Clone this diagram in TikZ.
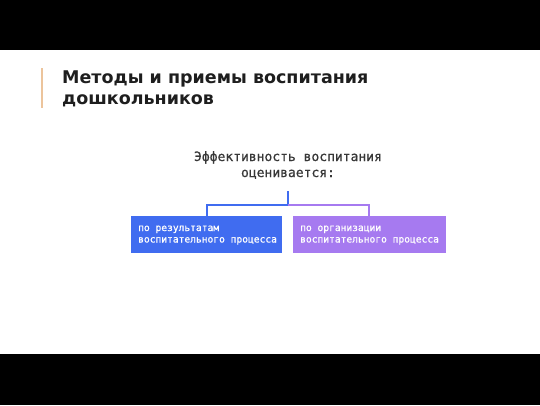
\documentclass[tikz,border=0pt]{standalone}
\usepackage{fontspec}
\setmainfont{DejaVu Sans}
\newfontfamily\monofont{DejaVu Sans Mono}[FakeBold=0.7]
\definecolor{barblack}{RGB}{0,0,0}
\definecolor{accent}{RGB}{236,196,156}
\definecolor{titlegray}{RGB}{30,30,30}
\definecolor{headgray}{RGB}{55,55,55}
\definecolor{boxblue}{RGB}{64,108,240}
\definecolor{boxpurple}{RGB}{166,122,240}
\tikzset{
  titletext/.style={anchor=base west, inner sep=0pt, align=left, text=titlegray,
    font=\bfseries\fontsize{17.5}{21}\selectfont},
  headtext/.style={anchor=base, inner sep=0pt, align=center, text=headgray,
    font=\monofont\fontsize{13}{16}\selectfont},
  boxlabel/.style={anchor=base west, inner sep=0pt, align=left, text=white,
    font=\monofont\fontsize{9.6}{11.5}\selectfont},
  link/.style={line width=1.6pt}
}
\begin{document}
\begin{tikzpicture}[x=1pt,y=-1pt]
\useasboundingbox (0,0) rectangle (540,405);
\fill[white] (0,0) rectangle (540,405);
\fill[barblack] (0,0) rectangle (540,50);
\fill[barblack] (0,354) rectangle (540,405);
\fill[accent] (40.5,68) rectangle (42.5,108);
\node[titletext] (title) at (62,104) {Методы и приемы воспитания\\дошкольников};
\node[headtext] (head) at (288,177) {Эффективность воспитания\\оценивается:};
\fill[boxblue] (131,216) rectangle (282,253);
\node[inner sep=0pt, minimum width=151pt, minimum height=37pt, anchor=north west] (left) at (131,216) {};
\fill[boxpurple] (293,216) rectangle (446,253);
\node[inner sep=0pt, minimum width=153pt, minimum height=37pt, anchor=north west] (right) at (293,216) {};
\node[boxlabel] (ltext) at (138,242.5) {по результатам\\воспитательного процесса};
\node[boxlabel] (rtext) at (300,242.5) {по организации\\воспитательного процесса};
\coordinate (stem) at (288,191);
\coordinate (junction) at (288,205);
\draw[link, boxblue] (stem) -- (junction) -| (left.north -| 207,0);
\draw[link, boxpurple] (junction) -| (right.north -| 369,0);
\end{tikzpicture}
\end{document}
